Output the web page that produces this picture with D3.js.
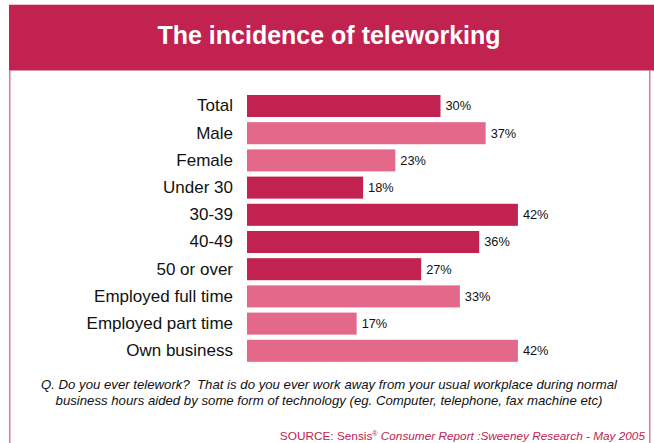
<!DOCTYPE html>
<html>
<head>
<meta charset="utf-8">
<script src="https://cdn.jsdelivr.net/npm/d3@7"></script>
<style>
  html, body { margin: 0; padding: 0; background: #fff; }
  svg { display: block; font-family: "Liberation Sans", Arial, sans-serif; }
  text { white-space: pre; }
</style>
</head>
<body>
<svg id="chart" width="654" height="443"></svg>
<script>
// Share of respondents who telework, by group
const categories = ["Total", "Male", "Female", "Under 30", "30-39", "40-49",
  "50 or over", "Employed full time", "Employed part time", "Own business"];
const values = [30, 37, 23, 18, 42, 36, 27, 33, 17, 42];
const shades = ["dark", "light", "light", "dark", "dark", "dark", "dark", "light", "light", "light"];

const title = "The incidence of teleworking";
const questionLines = [
  "Q. Do you ever telework?  That is do you ever work away from your usual workplace during normal",
  "business hours aided by some form of technology (eg. Computer, telephone, fax machine etc)"
];

const RED = "#c1224f";
const PINK = "#e3688a";
const FRAME = "#e27896";

const svg = d3.select("#chart");

// frame
svg.append("line").attr("x1", 9).attr("x2", 654).attr("y1", 4.5).attr("y2", 4.5)
  .attr("stroke", "#f1c3d0").attr("stroke-width", 1);
svg.append("rect").attr("x", 9).attr("y", 5).attr("width", 645).attr("height", 65.5).attr("fill", RED);
svg.append("line").attr("x1", 9.75).attr("x2", 9.75).attr("y1", 70).attr("y2", 443)
  .attr("stroke", FRAME).attr("stroke-width", 1.5);
svg.append("line").attr("x1", 649.75).attr("x2", 649.75).attr("y1", 70).attr("y2", 443)
  .attr("stroke", FRAME).attr("stroke-width", 1.5);

svg.append("text").attr("x", 329).attr("y", 44)
  .attr("text-anchor", "middle").attr("fill", "#fff")
  .attr("font-size", 25).attr("font-weight", "bold")
  .text(title);

// scales
const x = d3.scaleLinear().domain([0, 50]).range([247, 569.5]);
const y = d3.scaleBand().domain(categories).range([92.4, 364.4])
  .paddingInner(0.19).paddingOuter(0.095);
const color = d3.scaleOrdinal().domain(["dark", "light"]).range([RED, PINK]);

const rows = categories.map((c, i) => ({ cat: c, val: values[i], shade: shades[i] }));

svg.append("g").selectAll("rect").data(rows).join("rect")
  .attr("x", x(0))
  .attr("y", d => y(d.cat))
  .attr("width", d => x(d.val) - x(0))
  .attr("height", y.bandwidth())
  .attr("fill", d => color(d.shade));

// category axis, labels only
const yAxis = svg.append("g").attr("transform", `translate(${x(0) - 14},0)`)
  .call(d3.axisLeft(y).tickSize(0).tickPadding(0));
yAxis.select(".domain").remove();
yAxis.selectAll("text")
  .attr("font-family", "Liberation Sans, Arial, sans-serif")
  .attr("font-size", 17).attr("fill", "#111");

// value labels
svg.append("g").selectAll("text").data(rows).join("text")
  .attr("x", d => x(d.val) + 5)
  .attr("y", d => y(d.cat) + y.bandwidth() / 2)
  .attr("dy", "0.35em")
  .attr("font-size", 12.8).attr("fill", "#111")
  .text(d => d.val + "%");

// question text
svg.append("g").selectAll("text").data(questionLines).join("text")
  .attr("x", 329)
  .attr("y", (d, i) => 389 + i * 15.5)
  .attr("text-anchor", "middle")
  .attr("font-size", 13.2).attr("font-style", "italic").attr("fill", "#111")
  .text(d => d);

// source line
const src = svg.append("text").attr("x", 645).attr("y", 440)
  .attr("text-anchor", "end").attr("font-size", 11.8).attr("fill", RED);
src.append("tspan").text("SOURCE: Sensis");
src.append("tspan").attr("font-size", 7).attr("dy", -4).text("®");
src.append("tspan").attr("dy", 4).attr("font-style", "italic").text(" Consumer Report :Sweeney Research - May 2005");
</script>
</body>
</html>
